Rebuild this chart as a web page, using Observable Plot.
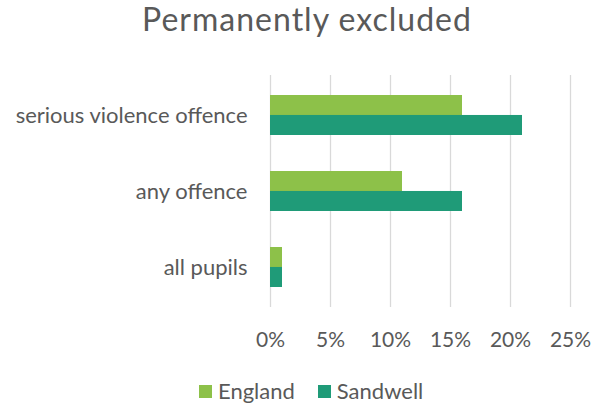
<!DOCTYPE html>
<html>
<head>
<meta charset="utf-8">
<script src="https://cdn.jsdelivr.net/npm/d3@7"></script>
<script src="https://cdn.jsdelivr.net/npm/@observablehq/plot@0.6"></script>
<style>
  html, body { margin: 0; padding: 0; background: #fff; }
  #wrap { width: 595px; height: 405px; position: relative; font-family: Lato, "Open Sans", sans-serif; color: #595959; }
  #title { position: absolute; left: 0; top: 3px; width: 595px; box-sizing: border-box; padding-left: 19px; text-align: center; font-size: 32px; line-height: 32px; letter-spacing: 1px; white-space: nowrap; }
  #chart { position: absolute; left: 0; top: 60px; }
  #legend { position: absolute; left: 199px; top: 380px; display: flex; align-items: center; font-size: 22px; line-height: 22px; }
  .item { display: flex; align-items: center; margin-right: 23px; }
  .sw { width: 13px; height: 13px; margin-right: 6px; }
</style>
</head>
<body>
<div id="wrap">
  <div id="title">Permanently excluded</div>
  <div id="chart"></div>
  <div id="legend"></div>
</div>
<script>
const categories = ["serious violence offence", "any offence", "all pupils"];
const seriesNames = ["England", "Sandwell"];
const englandValues = [16, 11, 1];
const sandwellValues = [21, 16, 1];
const tickValues = [0, 5, 10, 15, 20, 25];
const seriesColors = ["#8DC149", "#1F9B78"];

const rows = [];
categories.forEach((c, i) => {
  rows.push({category: c, series: "England", value: englandValues[i]});
  rows.push({category: c, series: "Sandwell", value: sandwellValues[i]});
});

const W = 595, H = 300, mt = 15, mb = 53, ml = 270, mr = 25;
const padIn = 0.48, padOut = 0.25;
const step = (H - mt - mb) / (categories.length - padIn + 2 * padOut);
const half = step * (1 - padIn) / 2;

const plot = Plot.plot({
  width: W, height: H,
  marginTop: mt, marginBottom: mb, marginLeft: ml, marginRight: mr,
  style: {fontFamily: "Lato, 'Open Sans', sans-serif", fontSize: "22px", color: "#595959", background: "#fff"},
  x: {domain: [0, 25], ticks: tickValues, tickFormat: d => d + "%", tickSize: 0, tickPadding: 25, label: null},
  y: {domain: categories, paddingInner: padIn, paddingOuter: padOut, tickSize: 0, tickPadding: 23, label: null},
  marks: [
    Plot.ruleX(tickValues, {stroke: "#d9d9d9", strokeWidth: 1.3}),
    Plot.barX(rows.filter(d => d.series === "England"), {x: "value", y: "category", fill: seriesColors[0], insetBottom: half}),
    Plot.barX(rows.filter(d => d.series === "Sandwell"), {x: "value", y: "category", fill: seriesColors[1], insetTop: half})
  ]
});
d3.select(plot).selectAll('g[aria-label="x-axis"], g[aria-label="x-axis tick label"]').attr("font-size", "21px").selectAll("text").attr("font-size", "21px");
document.getElementById("chart").appendChild(plot);

const legend = document.getElementById("legend");
seriesNames.forEach((s, i) => {
  const item = document.createElement("div");
  item.className = "item";
  const sw = document.createElement("div");
  sw.className = "sw";
  sw.style.background = seriesColors[i];
  const t = document.createElement("span");
  t.textContent = s;
  item.appendChild(sw);
  item.appendChild(t);
  legend.appendChild(item);
});
</script>
</body>
</html>
